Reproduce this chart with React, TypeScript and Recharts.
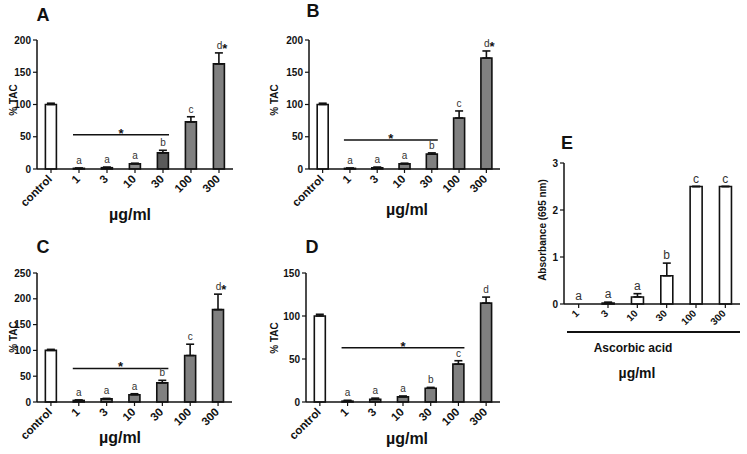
import React from "react";
import {
  ComposedChart, Bar, Line, XAxis, YAxis, Cell, ErrorBar, LabelList, ReferenceLine
} from "recharts";

const FONT = "'Liberation Sans', Arial, sans-serif";

// categories
const doseCats = ["control", "1", "3", "10", "30", "100", "300"];
const ascCats = ["1", "3", "10", "30", "100", "300"];

// panel A
const aMean = [100, 1, 2, 8, 25, 73, 163];
const aErr = [2, 0.5, 1, 1, 4, 8, 17];
const aSig = ["", "a", "a", "a", "b", "c", "d*"];
const aFill = ["#ffffff", "#8c8c8c", "#8c8c8c", "#8c8c8c", "#5a5a5a", "#808080", "#808080"];

// panel B
const bMean = [100, 1, 2, 8, 23, 79, 172];
const bErr = [2, 0.5, 1, 1, 2, 11, 11];
const bSig = ["", "a", "a", "a", "b", "c", "d*"];

// panel C
const cMean = [100, 3, 6, 14, 37, 90, 179];
const cErr = [2, 1, 1, 2, 5, 22, 30];
const cSig = ["", "a", "a", "a", "b", "c", "d*"];

// panel D
const dMean = [100, 1, 3, 6, 16, 44, 115];
const dErr = [2, 1, 1.5, 1, 1, 4, 7];
const dSig = ["", "a", "a", "a", "b", "c", "d"];

// panel E (ascorbic acid)
const eMean = [0, 0.02, 0.15, 0.6, 2.5, 2.5];
const eErr = [0, 0.02, 0.07, 0.27, 0, 0];
const eSig = ["a", "a", "a", "b", "c", "c"];

const grayFill = ["#ffffff", "#808080", "#808080", "#808080", "#808080", "#808080", "#808080"];
const whiteFill = ["#ffffff", "#ffffff", "#ffffff", "#ffffff", "#ffffff", "#ffffff"];

// significance bars: [from category, to category, y value]
const aStar: [string, string, number] = ["1", "30", 53];
const bStar: [string, string, number] = ["1", "30", 45];
const cStar: [string, string, number] = ["1", "30", 65];
const dStar: [string, string, number] = ["1", "100", 63];

function buildRows(cats: string[], mean: number[], err: number[], sig: string[]) {
  return cats.map((c, i) => ({
    cat: c,
    v: mean[i],
    e: [0, err[i]],
    top: mean[i] + err[i],
    lab: sig[i],
  }));
}

const SigLabel = ({ x, y, value, fs }: any) => {
  if (!value) return null;
  const s = String(value);
  const star = s.endsWith("*");
  return (
    <text x={x + (star ? 3 : 0)} y={y - 4} textAnchor="middle" fontSize={fs} fontFamily={FONT} fill="#333">
      {star ? s.slice(0, -1) : s}
      {star && <tspan fontSize={fs + 3} fontWeight="bold" dy={4} fill="#111">*</tspan>}
    </text>
  );
};

const StarLine = (p: any) => {
  const mid = (p.x1 + p.x2) / 2;
  return (
    <g>
      <line x1={p.x1 - 6} y1={p.y1} x2={p.x2 + 6} y2={p.y2} stroke="#111" strokeWidth={1.6} />
      <text x={mid} y={p.y1 + 3} textAnchor="middle" fontSize={13} fontWeight="bold" fontFamily={FONT} fill="#111">*</text>
    </g>
  );
};

interface PanelProps {
  left: number; top: number; width: number; height: number;
  mTop: number; mRight: number; yW: number; xH: number;
  rows: any[]; yMax: number; yTicks: number[]; fills: string[];
  star?: [string, string, number]; xfs?: number; lfs?: number;
}

function Panel(p: PanelProps) {
  return (
    <div style={{ position: "absolute", left: p.left, top: p.top }}>
      <ComposedChart
        width={p.width}
        height={p.height}
        data={p.rows}
        margin={{ top: p.mTop, right: p.mRight, left: 0, bottom: 0 }}
        barCategoryGap="30%"
      >
        <XAxis
          dataKey="cat"
          interval={0}
          height={p.xH}
          tickSize={4}
          angle={-45}
          textAnchor="end"
          dx={-4}
          dy={-1}
          axisLine={{ stroke: "#111", strokeWidth: 1.5 }}
          tickLine={{ stroke: "#111", strokeWidth: 1.2 }}
          tick={{ fontSize: p.xfs ?? 11.5, fontWeight: "bold", fill: "#111", fontFamily: FONT }}
        />
        <YAxis
          type="number"
          domain={[0, p.yMax]}
          ticks={p.yTicks}
          width={p.yW}
          tickSize={4}
          axisLine={{ stroke: "#111", strokeWidth: 1.5 }}
          tickLine={{ stroke: "#111", strokeWidth: 1.2 }}
          tick={{ fontSize: 10, fontWeight: "bold", fill: "#111", fontFamily: FONT }}
        />
        <Bar dataKey="v" stroke="#111" strokeWidth={1.6} isAnimationActive={false}>
          {p.rows.map((_, i) => (
            <Cell key={i} fill={p.fills[i]} />
          ))}
          <ErrorBar dataKey="e" width={4} stroke="#111" strokeWidth={1.6} direction="y" isAnimationActive={false} />
        </Bar>
        <Line dataKey="top" stroke="none" dot={false} activeDot={false} isAnimationActive={false} legendType="none">
          <LabelList dataKey="lab" content={<SigLabel fs={p.lfs ?? 10} />} />
        </Line>
        {p.star && (
          <ReferenceLine
            segment={[{ x: p.star[0], y: p.star[2] }, { x: p.star[1], y: p.star[2] }]}
            shape={StarLine}
          />
        )}
      </ComposedChart>
    </div>
  );
}

const Txt = ({ x, y, size, rot, children, weight = "bold" }: any) => (
  <div
    style={{
      position: "absolute", left: x, top: y, whiteSpace: "nowrap",
      transform: `translate(-50%, -50%)${rot ? ` rotate(${rot}deg)` : ""}`,
      fontFamily: FONT, fontSize: size, fontWeight: weight, color: "#111", lineHeight: 1,
    }}
  >
    {children}
  </div>
);

export default function App() {
  const tacTicks200 = [0, 50, 100, 150, 200];
  return (
    <div style={{ position: "absolute", left: 0, top: 0, width: 747, height: 454, background: "#fff", overflow: "hidden" }}>
      <Panel left={0} top={0} width={250} height={220} mTop={40} mRight={17} yW={37} xH={51}
        rows={buildRows(doseCats, aMean, aErr, aSig)} yMax={200} yTicks={tacTicks200} fills={aFill} star={aStar} />
      <Panel left={250} top={0} width={250} height={220} mTop={40} mRight={0} yW={59} xH={51}
        rows={buildRows(doseCats, bMean, bErr, bSig)} yMax={200} yTicks={tacTicks200} fills={grayFill} star={bStar} />
      <Panel left={0} top={220} width={250} height={234} mTop={53} mRight={18} yW={37} xH={52}
        rows={buildRows(doseCats, cMean, cErr, cSig)} yMax={250} yTicks={[0, 50, 100, 150, 200, 250]} fills={grayFill} star={cStar} />
      <Panel left={250} top={220} width={250} height={234} mTop={53} mRight={0} yW={56} xH={52}
        rows={buildRows(doseCats, dMean, dErr, dSig)} yMax={150} yTicks={[0, 50, 100, 150]} fills={grayFill} star={dStar} />
      <Panel left={540} top={100} width={207} height={250} mTop={63} mRight={7} yW={24} xH={46}
        rows={buildRows(ascCats, eMean, eErr, eSig)} yMax={3} yTicks={[0, 1, 2, 3]} fills={whiteFill} xfs={10} lfs={12} />

      {/* panel letters */}
      <Txt x={43} y={15} size={18}>A</Txt>
      <Txt x={313} y={11} size={18}>B</Txt>
      <Txt x={43} y={247} size={18}>C</Txt>
      <Txt x={312} y={247} size={18}>D</Txt>
      <Txt x={567} y={143} size={18}>E</Txt>

      {/* y titles */}
      <Txt x={14} y={100} size={10} rot={-90}>% TAC</Txt>
      <Txt x={275} y={100} size={10} rot={-90}>% TAC</Txt>
      <Txt x={14} y={337} size={10} rot={-90}>% TAC</Txt>
      <Txt x={275} y={338} size={10} rot={-90}>% TAC</Txt>
      <Txt x={543} y={230} size={10} rot={-90}>Absorbance (695 nm)</Txt>

      {/* x titles */}
      <Txt x={130} y={215} size={16}>µg/ml</Txt>
      <Txt x={407} y={210} size={16}>µg/ml</Txt>
      <Txt x={120} y={438} size={16}>µg/ml</Txt>
      <Txt x={407} y={439} size={16}>µg/ml</Txt>
      <div style={{ position: "absolute", left: 567, top: 331, width: 173, height: 2, background: "#111" }} />
      <Txt x={633} y={348} size={12}>Ascorbic acid</Txt>
      <Txt x={637} y={373} size={14}>µg/ml</Txt>
    </div>
  );
}
